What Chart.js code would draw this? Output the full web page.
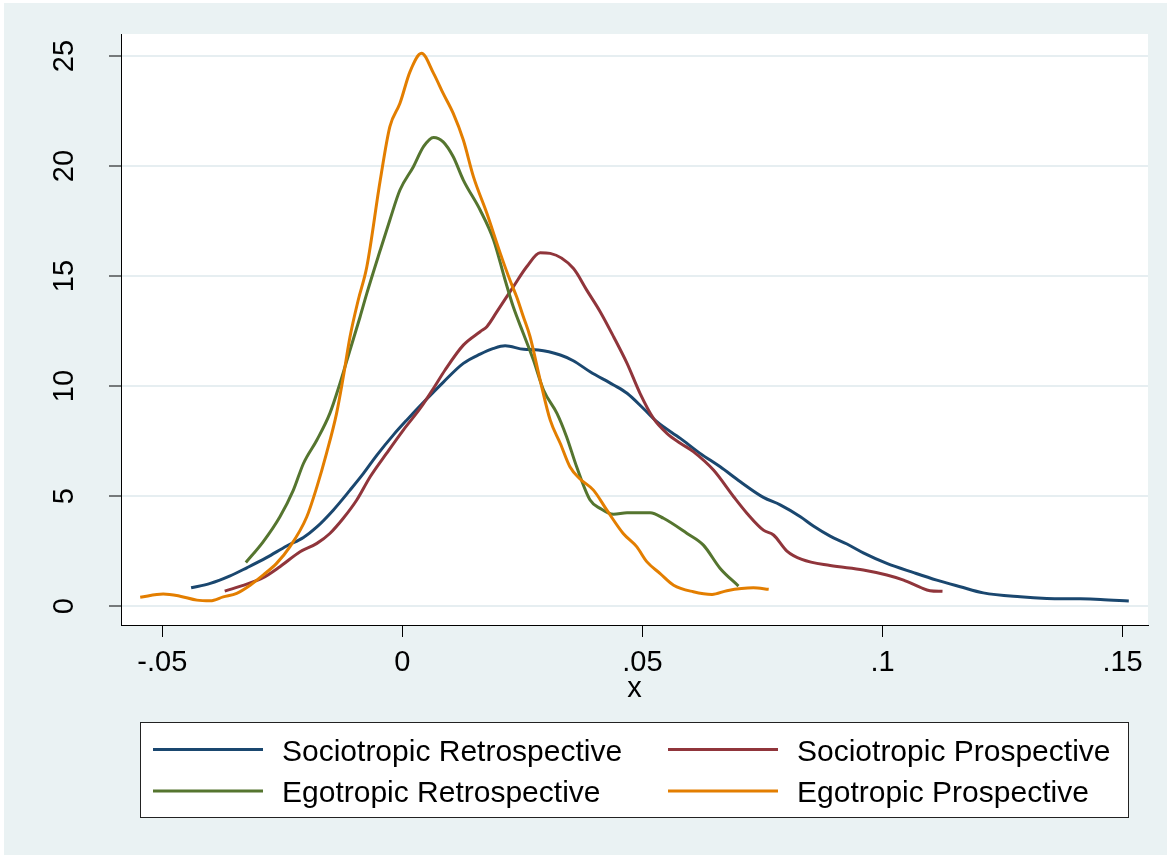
<!DOCTYPE html>
<html>
<head>
<meta charset="utf-8">
<title>kdensity</title>
<script src="https://cdn.jsdelivr.net/npm/chart.js@4.4.0/dist/chart.umd.min.js"></script>
<style>
html,body{margin:0;padding:0;background:#fff;}
#wrap{width:1167px;height:855px;}
</style>
</head>
<body>
<div id="wrap"><canvas id="chart0" width="1167" height="855"></canvas></div>
<script>
// 序列名称和颜色
var seriesNames = ['Sociotropic Retrospective','Sociotropic Prospective','Egotropic Retrospective','Egotropic Prospective'];
var seriesColors = ['#1a476f','#90353b','#55752f','#e37e00'];

// Sociotropic Retrospective
var srX = [-0.044,-0.040,-0.036,-0.0324,-0.0283,-0.0241,-0.0206,-0.0178,-0.0144,-0.0109,-0.0081,-0.0053,-0.0019,0.0009,0.0044,0.0085,0.0127,0.0162,0.019,0.0214,0.0253,0.0283,0.0329,0.0356,0.0391,0.044,0.0468,0.0502,0.053,0.0579,0.062,0.0662,0.0704,0.0752,0.0787,0.0829,0.0856,0.0891,0.0926,0.096,0.1009,0.1065,0.1113,0.1162,0.121,0.1287,0.1342,0.1412,0.1454,0.1513];
var srY = [0.83,1.03,1.36,1.74,2.2,2.73,3.12,3.6,4.36,5.27,6.03,6.86,7.77,8.45,9.26,10.17,11.03,11.45,11.71,11.83,11.67,11.64,11.41,11.15,10.65,10.05,9.67,8.98,8.38,7.62,6.94,6.33,5.65,4.94,4.6,4.06,3.64,3.18,2.82,2.42,1.94,1.52,1.18,0.88,0.6,0.42,0.35,0.33,0.3,0.23];

// Sociotropic Prospective
var spX = [-0.037,-0.0324,-0.029,-0.0255,-0.0213,-0.0178,-0.0151,-0.0123,-0.0095,-0.0067,-0.0033,0.0002,0.0037,0.0065,0.0089,0.0127,0.0162,0.0176,0.0197,0.0231,0.0259,0.0287,0.0308,0.0356,0.0384,0.0412,0.044,0.0468,0.0495,0.0523,0.0551,0.0579,0.0606,0.0648,0.069,0.0718,0.0752,0.0773,0.0801,0.0832,0.0891,0.096,0.1009,0.1044,0.1079,0.1099,0.1125];
var spY = [0.68,1.0,1.29,1.79,2.47,2.85,3.3,3.99,4.82,5.88,6.94,8.0,8.98,9.9,10.73,11.86,12.47,12.7,13.38,14.51,15.42,16.06,16.03,15.35,14.36,13.38,12.24,11.03,9.67,8.53,7.85,7.4,7.02,6.18,4.97,4.21,3.45,3.23,2.5,2.12,1.84,1.64,1.41,1.18,0.85,0.7,0.67];

// Egotropic Retrospective
var erX = [-0.0326,-0.029,-0.0255,-0.0227,-0.0206,-0.0178,-0.0151,-0.013,-0.0109,-0.0088,-0.0074,-0.0046,-0.0026,-0.0005,0.0023,0.0044,0.0065,0.0085,0.0106,0.0127,0.0162,0.019,0.0214,0.0231,0.0252,0.0273,0.0294,0.0322,0.0342,0.0363,0.0391,0.0412,0.044,0.0468,0.0516,0.0544,0.0593,0.0627,0.0662,0.07];
var erY = [1.98,2.92,4.06,5.27,6.48,7.55,8.76,10.12,11.64,13.15,14.21,16.18,17.55,18.91,19.97,20.88,21.3,21.1,20.42,19.36,18.0,16.64,14.82,13.6,12.39,11.18,9.82,8.76,7.7,6.33,4.82,4.44,4.17,4.24,4.24,3.99,3.3,2.77,1.71,0.91];

// Egotropic Prospective
var epX = [-0.0546,-0.0498,-0.0463,-0.0428,-0.04,-0.0373,-0.0345,-0.0317,-0.029,-0.0262,-0.0234,-0.0199,-0.0178,-0.0158,-0.0137,-0.0123,-0.0109,-0.0092,-0.0074,-0.0046,-0.0026,-0.0005,0.0016,0.004,0.0065,0.0085,0.0106,0.0127,0.0148,0.0176,0.0204,0.0224,0.0238,0.0252,0.0266,0.0287,0.0308,0.0329,0.0349,0.0369,0.0398,0.0426,0.046,0.0488,0.0509,0.0537,0.0565,0.0606,0.0645,0.0676,0.0731,0.0763];
var epY = [0.4,0.55,0.45,0.27,0.24,0.42,0.58,0.95,1.41,1.94,2.7,4.06,5.42,6.94,8.76,10.42,12.24,13.9,15.42,19.36,21.79,22.85,24.29,25.12,24.21,23.3,22.39,21.18,19.52,17.85,16.03,14.82,14.06,13.15,12.24,10.27,8.45,7.39,6.33,5.8,5.27,4.36,3.3,2.7,2.02,1.48,0.95,0.65,0.53,0.7,0.83,0.76];

// 坐标轴刻度
var yTicks = [0,5,10,15,20,25];
var xTicks = [-0.05,0,0.05,0.1,0.15];
var xTickLabels = ['-.05','0','.05','.1','.15'];

var fontFamily = '"Liberation Sans", Arial, sans-serif';
Chart.defaults.font.family = fontFamily;

function toPoints(xs, ys){
    return xs.map(function(x, i){ return {x: x, y: ys[i]}; });
}

function makeSet(i, xs, ys, ord){
    return {
        label: seriesNames[i],
        data: toPoints(xs, ys),
        borderColor: seriesColors[i],
        backgroundColor: seriesColors[i],
        borderWidth: 3,
        pointRadius: 0,
        fill: false,
        order: ord
    };
}

// 背景 / y轴文字 / 图例
var stataPlugin = {
    id: 'stata',
    beforeDraw: function(chart){
        var ctx = chart.ctx, a = chart.chartArea;
        ctx.save();
        ctx.fillStyle = '#ffffff';
        ctx.fillRect(0, 0, chart.width, chart.height);
        ctx.fillStyle = '#eaf2f3';
        ctx.fillRect(4, 3, chart.width - 4, chart.height - 3);
        ctx.fillStyle = '#ffffff';
        ctx.fillRect(a.left, a.top, a.right - a.left, a.bottom - a.top);
        ctx.restore();
    },
    afterDraw: function(chart){
        var ctx = chart.ctx, ys = chart.scales.y;
        ctx.save();
        ctx.fillStyle = '#000';
        ctx.font = '29px ' + fontFamily;
        ctx.textAlign = 'center';
        ctx.textBaseline = 'alphabetic';
        yTicks.forEach(function(v){
            var py = ys.getPixelForValue(v);
            ctx.save();
            ctx.translate(73, py);
            ctx.rotate(-Math.PI / 2);
            ctx.fillText(String(v), 0, 0);
            ctx.restore();
        });

        // 图例框
        ctx.fillStyle = '#ffffff';
        ctx.fillRect(140, 722, 989, 96);
        ctx.strokeStyle = '#222';
        ctx.lineWidth = 1;
        ctx.strokeRect(140.5, 722.5, 988, 95);
        var lineX = [153, 668], textX = [282, 797], rowY = [749.5, 791];
        ctx.textAlign = 'left';
        ctx.font = '30px ' + fontFamily;
        chart.data.datasets.forEach(function(ds, i){
            var col = i % 2, row = Math.floor(i / 2);
            ctx.strokeStyle = ds.borderColor;
            ctx.lineWidth = 3;
            ctx.beginPath();
            ctx.moveTo(lineX[col], rowY[row]);
            ctx.lineTo(lineX[col] + 110, rowY[row]);
            ctx.stroke();
            ctx.fillStyle = '#000';
            ctx.fillText(ds.label, textX[col], rowY[row] + 11);
        });
        ctx.restore();
    }
};

var myChart = new Chart(document.getElementById('chart0'), {
    type: 'line',
    data: {
        datasets: [
            makeSet(0, srX, srY, 3),
            makeSet(1, spX, spY, 2),
            makeSet(2, erX, erY, 1),
            makeSet(3, epX, epY, 0)
        ]
    },
    options: {
        responsive: false,
        animation: false,
        devicePixelRatio: 1,
        layout: {padding: {left: 0, top: 34, right: 19, bottom: 149}},
        elements: {line: {cubicInterpolationMode: 'monotone'}},
        plugins: {legend: {display: false}, tooltip: {enabled: false}},
        scales: {
            x: {
                type: 'linear',
                min: -0.0586,
                max: 0.1553,
                afterBuildTicks: function(s){ s.ticks = xTicks.map(function(v){ return {value: v}; }); },
                afterFit: function(s){ s.height = 81; },
                grid: {drawOnChartArea: false, drawTicks: true, tickLength: 12, tickColor: '#000', tickWidth: 1},
                border: {color: '#000', width: 1},
                ticks: {
                    color: '#000',
                    font: {size: 29},
                    padding: 9,
                    maxRotation: 0,
                    autoSkip: false,
                    callback: function(v, i){ return xTickLabels[i]; }
                },
                title: {display: true, text: 'x', color: '#000', font: {size: 29}, padding: 0}
            },
            y: {
                type: 'linear',
                min: -0.86,
                max: 26.0,
                afterBuildTicks: function(s){ s.ticks = yTicks.map(function(v){ return {value: v}; }); },
                afterFit: function(s){ s.width = 121; },
                grid: {color: '#e6eef1', lineWidth: 2, drawTicks: true, tickLength: 12, tickColor: '#000', tickWidth: 1},
                border: {color: '#000', width: 1},
                ticks: {color: 'rgba(0,0,0,0)', font: {size: 29}}
            }
        }
    },
    plugins: [stataPlugin]
});
</script>
</body>
</html>
